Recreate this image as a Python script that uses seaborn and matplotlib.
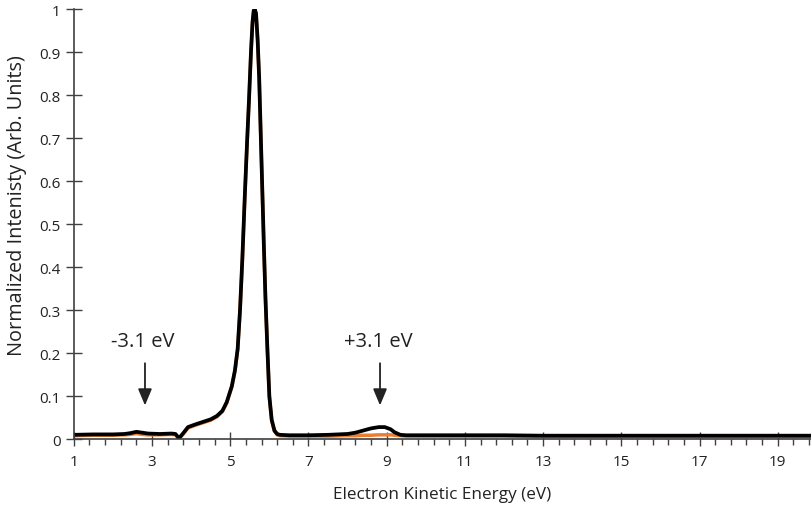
import numpy as np
import pandas as pd
import matplotlib
matplotlib.use("Agg")
import matplotlib.pyplot as plt
import seaborn as sns
from matplotlib.ticker import FixedLocator, FuncFormatter

# ------------------------------------------------------
# Data
# ------------------------------------------------------

energy = [1.0, 1.5, 2.0, 2.3, 2.45, 2.6, 2.75, 2.9, 3.2, 3.5, 3.6, 3.69, 3.8,
          3.92, 4.1, 4.3, 4.5, 4.66, 4.8, 4.91, 5.04, 5.12, 5.19, 5.25, 5.31,
          5.37, 5.43, 5.48, 5.53, 5.57, 5.6, 5.63, 5.66, 5.7, 5.74, 5.78, 5.82,
          5.86, 5.9, 5.95, 6.0, 6.06, 6.13, 6.2, 6.27, 6.5, 7.0, 7.5, 8.0,
          8.2, 8.4, 8.6, 8.8, 8.95, 9.1, 9.2, 9.35, 9.5, 10.0, 11.0, 12.0,
          13.0, 15.0, 17.0, 19.0, 20.0]

signal = [0.010, 0.011, 0.011, 0.012, 0.014, 0.017, 0.015, 0.013, 0.012,
          0.013, 0.012, 0.002, 0.014, 0.028, 0.034, 0.040, 0.046, 0.054,
          0.066, 0.086, 0.123, 0.16, 0.21, 0.30, 0.42, 0.56, 0.69, 0.79,
          0.90, 0.97, 0.997, 1.0, 0.99, 0.93, 0.84, 0.71, 0.58, 0.45, 0.33,
          0.21, 0.10, 0.045, 0.020, 0.012, 0.010, 0.009, 0.009, 0.010, 0.012,
          0.015, 0.020, 0.025, 0.028, 0.028, 0.023, 0.016, 0.010, 0.009,
          0.009, 0.009, 0.009, 0.008, 0.008, 0.008, 0.008, 0.008]

reference = [0.008, 0.009, 0.009, 0.010, 0.011, 0.013, 0.011, 0.010, 0.010,
             0.011, 0.010, 0.001, 0.012, 0.026, 0.032, 0.038, 0.044, 0.052,
             0.064, 0.084, 0.121, 0.158, 0.208, 0.298, 0.418, 0.558, 0.688,
             0.788, 0.898, 0.968, 0.995, 0.998, 0.988, 0.928, 0.838, 0.708,
             0.578, 0.448, 0.328, 0.208, 0.098, 0.043, 0.018, 0.010, 0.008,
             0.007, 0.007, 0.007, 0.008, 0.008, 0.009, 0.009, 0.010, 0.010,
             0.010, 0.009, 0.008, 0.007, 0.007, 0.007, 0.007, 0.006, 0.006,
             0.006, 0.006, 0.006]

annot_labels = ["-3.1 eV", "+3.1 eV"]
annot_x = [2.82, 8.83]

df = pd.DataFrame({"energy": energy, "signal": signal, "reference": reference})

# ------------------------------------------------------
# Plot
# ------------------------------------------------------

sns.set_style("ticks")
plt.rcParams["font.family"] = ["Open Sans", "DejaVu Sans"]

fig = plt.figure(figsize=(8.11, 5.10), dpi=100)
ax = fig.add_axes([0.091, 0.137, 0.909, 0.843])

sns.lineplot(data=df, x="energy", y="reference", color="#ED7D31",
             linewidth=2.5, ax=ax)
sns.lineplot(data=df, x="energy", y="signal", color="black",
             linewidth=2.7, ax=ax)

ax.set_xlim(1, 19.85)
ax.set_ylim(0, 1)

ax.xaxis.set_major_locator(FixedLocator(np.arange(1, 20, 2)))
ax.xaxis.set_minor_locator(FixedLocator(np.arange(1, 20, 0.4)))
ax.yaxis.set_major_locator(FixedLocator(np.arange(0, 1.01, 0.1)))
ax.yaxis.set_major_formatter(FuncFormatter(lambda v, p: f"{v:g}"))

axis_grey = "#404040"
ax.tick_params(axis="x", which="major", direction="inout", length=10,
               width=1, colors=axis_grey, labelsize=11, pad=6)
ax.tick_params(axis="x", which="minor", direction="out", length=4,
               width=1, colors=axis_grey)
ax.tick_params(axis="y", which="major", direction="inout", length=11,
               width=1, colors=axis_grey, labelsize=11, pad=4)
for lab in ax.get_xticklabels() + ax.get_yticklabels():
    lab.set_color("#222222")

sns.despine(ax=ax)
for side in ["left", "bottom"]:
    ax.spines[side].set_color(axis_grey)
    ax.spines[side].set_linewidth(1.2)

ax.set_xlabel("Electron Kinetic Energy (eV)", fontsize=12.3, color="#222222",
              labelpad=12)
ax.set_ylabel("Normalized Intenisty (Arb. Units)", fontsize=14.3,
              color="#222222")
ax.yaxis.set_label_coords(-0.063, 0.545)

for lab, xv in zip(annot_labels, annot_x):
    ax.annotate("", xy=(xv, 0.072), xytext=(xv, 0.183),
                arrowprops=dict(arrowstyle="-|>,head_length=1.0,head_width=0.42",
                                color="#222222", lw=1.3))
    ax.text(xv - 0.05, 0.228, lab, ha="center", va="center", fontsize=14.5,
            color="#222222")

fig.savefig("out.png", dpi=100)
